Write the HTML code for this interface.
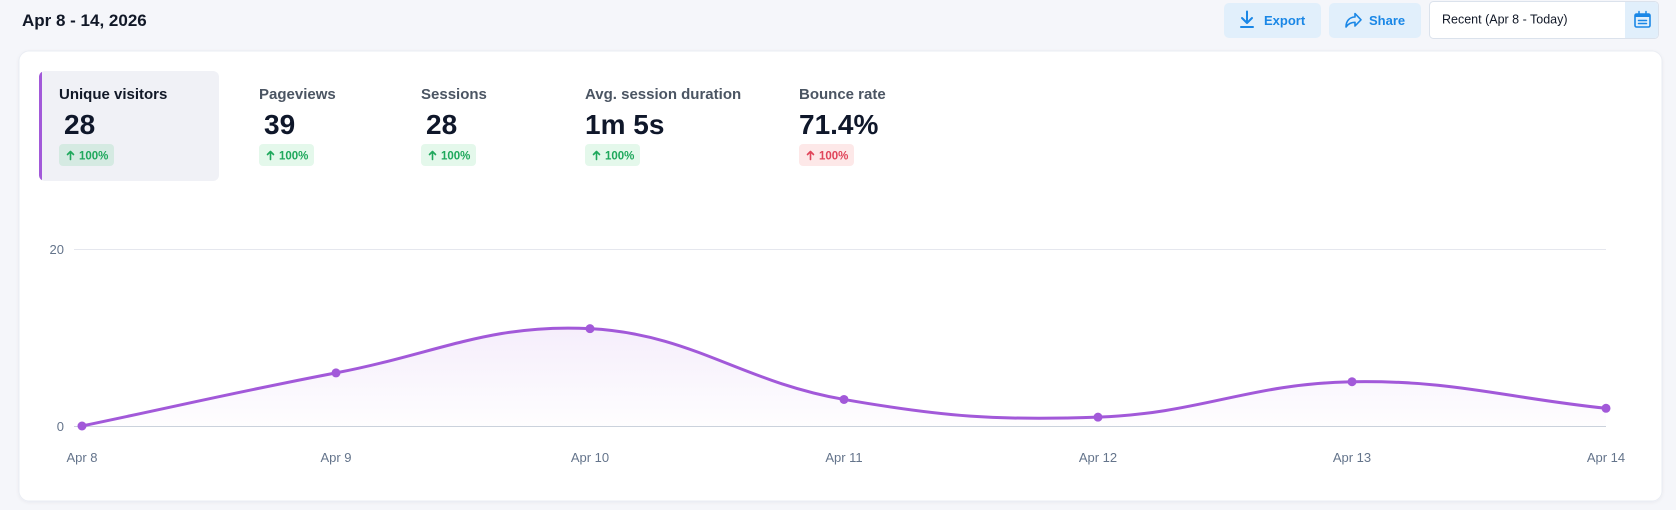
<!DOCTYPE html>
<html>
<head>
<meta charset="utf-8">
<style>
  html, body { margin: 0; padding: 0; }
  body { width: 1676px; height: 510px; overflow: hidden; background: #f5f6fa; font-family: "Liberation Sans", sans-serif; }
  svg { display: block; }
  text { font-family: "Liberation Sans", sans-serif; }
</style>
</head>
<body>
<svg width="1676" height="510" viewBox="0 0 1676 510" xmlns="http://www.w3.org/2000/svg">
  <defs>
    <linearGradient id="areaGrad" gradientUnits="userSpaceOnUse" x1="0" y1="300" x2="0" y2="426">
      <stop offset="0" stop-color="#a259d9" stop-opacity="0.13"/>
      <stop offset="1" stop-color="#a259d9" stop-opacity="0.01"/>
    </linearGradient>
    <clipPath id="tabClip">
      <rect x="39" y="71" width="180" height="110" rx="6" ry="6"/>
    </clipPath>
    <filter id="cardShadow" x="-5%" y="-5%" width="110%" height="115%">
      <feDropShadow dx="0" dy="1" stdDeviation="1.5" flood-color="#1e293b" flood-opacity="0.05"/>
    </filter>
  </defs>

  <!-- page background -->
  <rect x="0" y="0" width="1676" height="510" fill="#f5f6fa"/>

  <!-- title -->
  <text x="22" y="26" font-size="17" font-weight="bold" fill="#111827">Apr 8 - 14, 2026</text>

  <!-- Export button -->
  <rect x="1224" y="3" width="97" height="35" rx="5" fill="#e1effb"/>
  <path d="M1247 11.5 V23 M1242 18 L1247 23 L1252 18 M1241 27 H1253" stroke="#1a87e6" stroke-width="2" fill="none" stroke-linecap="round" stroke-linejoin="round"/>
  <text x="1264" y="25" font-size="13" font-weight="bold" fill="#1a87e6">Export</text>

  <!-- Share button -->
  <rect x="1329" y="3" width="92" height="35" rx="5" fill="#e1effb"/>
  <path d="M1346 27 C1346 20.5 1350 17 1355 17 V13.5 L1361 19.8 L1355 26 V22.3 C1351 22.3 1348 24 1346 27 Z" stroke="#1a87e6" stroke-width="1.6" fill="none" stroke-linejoin="round"/>
  <text x="1369" y="25" font-size="13" font-weight="bold" fill="#1a87e6">Share</text>

  <!-- date picker -->
  <rect x="1429.5" y="1.5" width="229" height="37" rx="4" fill="#ffffff" stroke="#dbe2ec"/>
  <path d="M1625 2 H1654.5 A3.5 3.5 0 0 1 1658 5.5 V34.5 A3.5 3.5 0 0 1 1654.5 38 H1625 Z" fill="#e1effb"/>
  <text x="1442" y="23.5" font-size="12.5" fill="#111827">Recent (Apr 8 - Today)</text>
  <!-- calendar icon -->
  <rect x="1635" y="14" width="15" height="13" rx="1.5" fill="none" stroke="#1a87e6" stroke-width="1.6"/>
  <rect x="1635" y="14" width="15" height="3" fill="#1a87e6"/>
  <path d="M1639 11.5 V15.5 M1646 11.5 V15.5 M1638.5 20.5 H1646.5 M1638.5 23.5 H1646.5" stroke="#1a87e6" stroke-width="1.5" stroke-linecap="round"/>

  <!-- card -->
  <rect x="19" y="51" width="1643" height="450" rx="10" fill="#ffffff" stroke="#eaedf3" stroke-width="1" filter="url(#cardShadow)"/>

  <!-- selected tab -->
  <rect x="39" y="71" width="180" height="110" rx="6" fill="#f0f1f6"/>
  <rect x="39" y="71" width="3" height="110" fill="#a259d9" clip-path="url(#tabClip)"/>

  <!-- labels -->
  <text x="59" y="99" font-size="15" font-weight="bold" fill="#111827">Unique visitors</text>
  <text x="259" y="99" font-size="15" font-weight="bold" fill="#4b5563">Pageviews</text>
  <text x="421" y="99" font-size="15" font-weight="bold" fill="#4b5563">Sessions</text>
  <text x="585" y="99" font-size="15" font-weight="bold" fill="#4b5563">Avg. session duration</text>
  <text x="799" y="99" font-size="15" font-weight="bold" fill="#4b5563">Bounce rate</text>

  <!-- values -->
  <text x="64" y="134" font-size="28" font-weight="bold" fill="#0f172a">28</text>
  <text x="264" y="134" font-size="28" font-weight="bold" fill="#0f172a">39</text>
  <text x="426" y="134" font-size="28" font-weight="bold" fill="#0f172a">28</text>
  <text x="585" y="134" font-size="28" font-weight="bold" fill="#0f172a">1m 5s</text>
  <text x="799" y="134" font-size="28" font-weight="bold" fill="#0f172a">71.4%</text>

  <!-- badges -->
  <rect x="59" y="144" width="55" height="22" rx="4" fill="#22c55e" fill-opacity="0.13"/>
  <rect x="259" y="144" width="55" height="22" rx="4" fill="#22c55e" fill-opacity="0.12"/>
  <rect x="421" y="144" width="55" height="22" rx="4" fill="#22c55e" fill-opacity="0.12"/>
  <rect x="585" y="144" width="55" height="22" rx="4" fill="#22c55e" fill-opacity="0.12"/>
  <rect x="799" y="144" width="55" height="22" rx="4" fill="#ef4444" fill-opacity="0.12"/>

  <!-- badge arrows -->
  <g stroke="#1fa85c" stroke-width="1.6" fill="none" stroke-linecap="round" stroke-linejoin="round">
    <path d="M70.5 159.5 V151.5 M67.5 154.5 L70.5 151.5 L73.5 154.5"/>
    <path d="M270.5 159.5 V151.5 M267.5 154.5 L270.5 151.5 L273.5 154.5"/>
    <path d="M432.5 159.5 V151.5 M429.5 154.5 L432.5 151.5 L435.5 154.5"/>
    <path d="M596.5 159.5 V151.5 M593.5 154.5 L596.5 151.5 L599.5 154.5"/>
  </g>
  <g stroke="#e0455a" stroke-width="1.6" fill="none" stroke-linecap="round" stroke-linejoin="round">
    <path d="M810.5 159.5 V151.5 M807.5 154.5 L810.5 151.5 L813.5 154.5"/>
  </g>

  <g font-size="11.5" font-weight="bold" fill="#1fa85c">
    <text x="79" y="159.5">100%</text>
    <text x="279" y="159.5">100%</text>
    <text x="441" y="159.5">100%</text>
    <text x="605" y="159.5">100%</text>
  </g>
  <g font-size="11.5" font-weight="bold" fill="#e0455a">
    <text x="819" y="159.5">100%</text>
  </g>

  <!-- chart grid -->
  <line x1="74" y1="249.5" x2="1606" y2="249.5" stroke="#e5e7ee" stroke-width="1"/>
  <line x1="74" y1="426.5" x2="1606" y2="426.5" stroke="#cbd2dc" stroke-width="1"/>

  <!-- y labels -->
  <g font-size="13" fill="#64748b" text-anchor="end">
    <text x="64" y="254">20</text>
    <text x="64" y="431">0</text>
  </g>

  <!-- x labels -->
  <g font-size="13" fill="#64748b" text-anchor="middle">
    <text x="82" y="462">Apr 8</text>
    <text x="336" y="462">Apr 9</text>
    <text x="590" y="462">Apr 10</text>
    <text x="844" y="462">Apr 11</text>
    <text x="1098" y="462">Apr 12</text>
    <text x="1352" y="462">Apr 13</text>
    <text x="1606" y="462">Apr 14</text>
  </g>

  <!-- area -->
  <path d="M82,426 C183.6,404.76 234.1,392.43 336,372.9 C437.3,353.49 489.5,323.4 590,328.65 C692.7,334.02 740.6,381.44 844,399.45 C943.8,416.84 996.8,420.68 1098,417.15 C1200,413.6 1250.2,383.52 1352,381.75 C1453.4,379.98 1504.4,397.68 1606,408.3 L1606,426 L82,426 Z" fill="url(#areaGrad)"/>

  <!-- line -->
  <path d="M82,426 C183.6,404.76 234.1,392.43 336,372.9 C437.3,353.49 489.5,323.4 590,328.65 C692.7,334.02 740.6,381.44 844,399.45 C943.8,416.84 996.8,420.68 1098,417.15 C1200,413.6 1250.2,383.52 1352,381.75 C1453.4,379.98 1504.4,397.68 1606,408.3" fill="none" stroke="#a259d9" stroke-width="3" stroke-linejoin="round" stroke-linecap="round"/>

  <!-- points -->
  <g fill="#a259d9">
    <circle cx="82" cy="426" r="4.5"/>
    <circle cx="336" cy="372.9" r="4.5"/>
    <circle cx="590" cy="328.65" r="4.5"/>
    <circle cx="844" cy="399.45" r="4.5"/>
    <circle cx="1098" cy="417.15" r="4.5"/>
    <circle cx="1352" cy="381.75" r="4.5"/>
    <circle cx="1606" cy="408.3" r="4.5"/>
  </g>
</svg>
</body>
</html>
